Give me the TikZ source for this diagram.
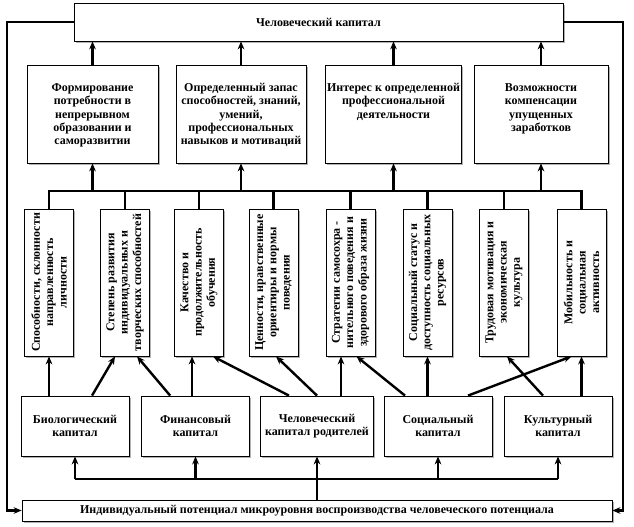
\documentclass[tikz,border=0pt]{standalone}
\usepackage{fontspec}
\setmainfont{Liberation Serif}
\usetikzlibrary{arrows.meta,shadows}
\begin{document}
\begin{tikzpicture}[x=0.75pt,y=-0.75pt,
    box/.style={draw,fill=white,line width=0.6pt,align=center,
      font=\bfseries\fontsize{9}{10}\selectfont,
      drop shadow={shadow xshift=1.2pt,shadow yshift=-1.2pt,fill=gray!60,opacity=1}},
    goal/.style={box,inner xsep=1pt,inner ysep=0pt},
    factor/.style={box,rotate=90,minimum width=110.25pt,minimum height=36.75pt,inner sep=1pt},
    capital/.style={box,minimum width=81pt,minimum height=45pt},
    wire/.style={line width=1.8pt},
    arr/.style={wire,-{Stealth[length=6pt,width=5pt]}}]
  \useasboundingbox (0,0) rectangle (634,527);

  % top and bottom
  \node[box,minimum width=366.75pt,minimum height=28.5pt] (top) at (318.5,22) {Человеческий капитал};
  \node[box,minimum width=442.5pt,minimum height=15.75pt,inner sep=1pt] (bot) at (317,510.5)
    {Индивидуальный потенциал микроуровня воспроизводства человеческого потенциала};

  % row 2 (text hangs from the top edge)
  \node[goal,minimum width=98.25pt,text height=60pt,text depth=13.5pt] (r2a) at (92.5,114)
    {Формирование\\ потребности в\\ непрерывном\\ образовании и\\ саморазвитии};
  \node[goal,minimum width=97.5pt,text height=60pt,text depth=13.5pt] (r2b) at (241,114)
    {Определенный запас\\ способностей, знаний,\\ умений,\\ профессиональных\\ навыков и мотиваций};
  \node[goal,minimum width=99.75pt,text height=40pt,text depth=33.5pt] (r2c) at (393.5,114)
    {Интерес к определенной\\ профессиональной\\ деятельности};
  \node[goal,minimum width=100.5pt,text height=50pt,text depth=23.5pt] (r2d) at (541,114)
    {Возможности\\ компенсации\\ упущенных\\ заработков};

  % row 3
  \node[factor] (r3a) at (49,282.5) {Способности, склонности\\ направленность\\ личности};
  \node[factor] (r3b) at (125,282.5) {Степень развития\\ индивидуальных и\\ творческих способностей};
  \node[factor] (r3c) at (199,282.5) {Качество и\\ продолжительность\\ обучения};
  \node[factor] (r3d) at (273.5,282.5) {Ценности, нравственные\\ ориентиры и нормы\\ поведения};
  \node[factor] (r3e) at (350.5,282.5) {Стратегии самосохра -\\ нительного поведения и\\ здорового образа жизни};
  \node[factor] (r3f) at (427.5,282.5) {Социальный статус и\\ доступность социальных\\ ресурсов};
  \node[factor] (r3g) at (504,282.5) {Трудовая мотивация и\\ экономическая\\ культура};
  \node[factor] (r3h) at (581.5,282.5) {Мобильность и\\ социальная\\ активность};

  % row 4
  \node[capital] (r4a) at (75,426) {Биологический\\ капитал};
  \node[capital] (r4b) at (195.5,426) {Финансовый\\ капитал};
  \node[capital] (r4c) at (317,426) {Человеческий\\ капитал родителей};
  \node[capital] (r4d) at (438,426) {Социальный\\ капитал};
  \node[capital] (r4e) at (558,426) {Культурный\\ капитал};

  \coordinate (busA) at (0,191);
  \coordinate (busB) at (0,479);
  \coordinate (lft) at (7,0);
  \coordinate (rgt) at (623,0);

  % outer loop
  \draw[arr] (top.west) -| (lft |- bot.west) -- (bot.west);
  \draw[arr] (top.east) -| (rgt |- bot.east) -- (bot.east);

  % row 2 to top
  \foreach \n in {r2a,r2b,r2c,r2d}
    \draw[arr] (\n.north) -- (\n.north |- top.south);

  % upper bus
  \draw[wire] (r3a.east) |- (r3h.east |- busA) -- (r3h.east);
  \foreach \n in {r3b,r3c,r3d,r3e,r3f,r3g}
    \draw[wire] (\n.east) -- (\n.east |- busA);
  \foreach \n in {r2a,r2b,r2c,r2d}
    \draw[arr] (\n.south |- busA) -- (\n.south);

  % lower bus
  \draw[wire] (r4a.south |- busB) -- (r4e.south |- busB);
  \draw[wire] (bot.north) -- (bot.north |- busB);
  \foreach \n in {r4a,r4b,r4c,r4d,r4e}
    \draw[arr] (\n.south |- busB) -- (\n.south);

  % capitals to factors
  \draw[arr] (r3a.west |- r4a.north) -- (r3a.west);
  \draw[arr] ([xshift=12.75pt]r4a.north) -- ([xshift=-7.5pt]r3b.west);
  \draw[arr] ([xshift=-19pt]r4b.north) -- ([xshift=9pt]r3b.west);
  \draw[arr] ([xshift=-2.6pt]r4b.north) -- ([xshift=-2.6pt]r4b.north |- r3c.west);
  \draw[arr] ([xshift=-21pt]r4c.north) -- ([xshift=10.5pt]r3c.west);
  \draw[arr] (r4c.north) -- ([xshift=1.9pt]r3d.west);
  \draw[arr] ([xshift=18pt]r4c.north) -- ([xshift=18pt]r4c.north |- r3e.west);
  \draw[arr] ([xshift=-24.75pt]r4d.north) -- ([xshift=4.5pt]r3e.west);
  \draw[arr] (r3f.west |- r4d.north) -- (r3f.west);
  \draw[arr] ([xshift=22.5pt]r4d.north) -- ([xshift=-7.5pt]r3h.west);
  \draw[arr] ([xshift=-11.25pt]r4e.north) -- ([xshift=2.25pt]r3g.west);
  \draw[arr] (r3h.west |- r4e.north) -- (r3h.west);
\end{tikzpicture}
\end{document}
